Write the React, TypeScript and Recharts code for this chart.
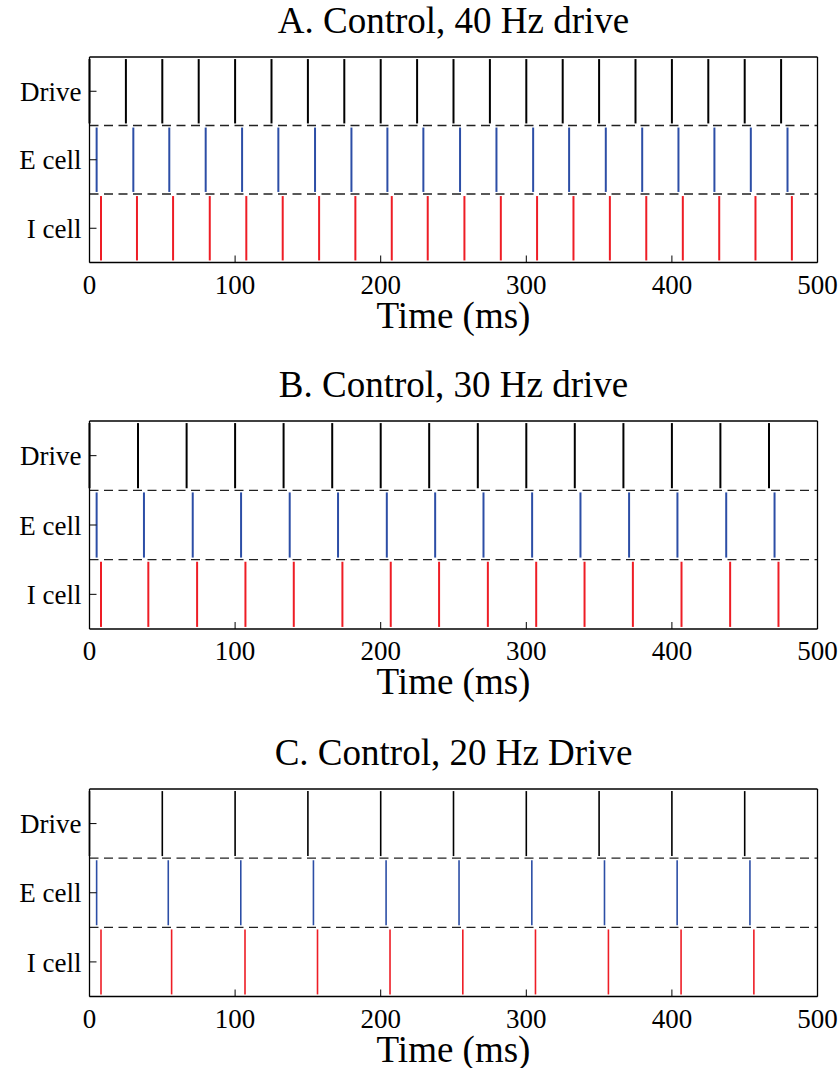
import { ErrorBar, Label, ReferenceLine, Scatter, ScatterChart, XAxis, YAxis } from "recharts";

// spike times in ms, one list per cell and per drive frequency
const rowNames = ["I cell", "E cell", "Drive"]; // rows sit at y = 1, 2, 3
const timeTicks = [0, 100, 200, 300, 400, 500];
const rowTicks = [1, 2, 3];

const drive40 = [0, 25, 50, 75, 100, 125, 150, 175, 200, 225, 250, 275, 300, 325, 350, 375, 400, 425, 450, 475];
const eCell40 = [4.9, 30.1, 54.8, 79.8, 104.8, 129.7, 154.9, 179.9, 204.6, 229.3, 254.5, 279.5, 304.7, 329.4, 354.6, 379.6, 404.5, 429.2, 454.2, 479.4];
const iCell40 = [7.9, 32.6, 57.4, 82.6, 107.7, 132.7, 157.7, 182.6, 207.6, 232.3, 257.5, 282.5, 307.4, 332.4, 357.4, 382.4, 407.5, 432.5, 457.4, 482.4];

const drive30 = [0, 33.3, 66.7, 100, 133.3, 166.7, 200, 233.3, 266.7, 300, 333.3, 366.7, 400, 433.3, 466.7];
const eCell30 = [4.9, 37.4, 70.9, 104.1, 137.5, 170.7, 204.2, 237.4, 270.6, 304.0, 337.2, 370.6, 403.8, 437.3, 470.5];
const iCell30 = [7.9, 40.4, 73.9, 107.1, 140.3, 173.7, 206.9, 240.1, 273.6, 306.8, 340.0, 373.2, 406.6, 440.0, 473.2];

const drive20 = [0, 50, 100, 150, 200, 250, 300, 350, 400, 450];
const eCell20 = [4.9, 54.1, 103.9, 153.8, 203.7, 253.8, 303.8, 353.7, 403.6, 453.6];
const iCell20 = [7.9, 56.4, 106.8, 156.6, 206.4, 256.4, 306.3, 356.4, 406.3, 456.3];

const SPIKE_HALF = 0.47; // half a spike's height, in row units

const FONT = "'Liberation Serif', 'Times New Roman', serif";
const CHART_W = 839;
const CHART_H = 345;
const PLOT_LEFT = 89.5;
const PLOT_RIGHT = 817.5;
const PLOT_TOP = 57; // inside each chart
const XLABEL_DROP = 65; // axis line to "Time (ms)" baseline

const panels = [
  { title: "A. Control, 40 Hz drive", drive: drive40, e: eCell40, i: iCell40, top: 0, height: 205.5, lw: 2 },
  { title: "B. Control, 30 Hz drive", drive: drive30, e: eCell30, i: iCell30, top: 364, height: 208, lw: 2 },
  { title: "C. Control, 20 Hz Drive", drive: drive20, e: eCell20, i: iCell20, top: 732, height: 207.5, lw: 1.6 },
];

const toPoints = (times: number[], row: number) => times.map((t) => ({ x: t, y: row, err: SPIKE_HALF }));

function SpikeRow({ times, row, color, lw }: { times: number[]; row: number; color: string; lw: number }) {
  return (
    <Scatter data={toPoints(times, row)} shape={() => <g />} isAnimationActive={false}>
      <ErrorBar dataKey="err" direction="y" width={0} stroke={color} strokeWidth={lw} isAnimationActive={false} />
    </Scatter>
  );
}

function RasterPanel({ title, drive, e, i, top, height, lw }: (typeof panels)[number]) {
  const bottomAxisH = CHART_H - PLOT_TOP - height;
  return (
    <div style={{ position: "absolute", left: 0, top, width: CHART_W, height: CHART_H }}>
      <div
        style={{
          position: "absolute",
          left: PLOT_LEFT,
          width: PLOT_RIGHT - PLOT_LEFT,
          top: 2,
          textAlign: "center",
          fontFamily: FONT,
          fontSize: 37,
          lineHeight: "37px",
          color: "#000",
          whiteSpace: "nowrap",
        }}
      >
        {title}
      </div>
      <ScatterChart
        width={CHART_W}
        height={CHART_H}
        margin={{ top: PLOT_TOP - 1, right: CHART_W - PLOT_RIGHT - 1, bottom: 0, left: 0 }}
        style={{ fontFamily: FONT }}
      >
        <XAxis
          dataKey="x"
          type="number"
          domain={[0, 500]}
          ticks={timeTicks}
          allowDataOverflow
          height={bottomAxisH}
          axisLine={{ stroke: "#000", strokeWidth: 1.3 }}
          tickLine={{ stroke: "#000", strokeWidth: 1 }}
          tickSize={-7}
          tickMargin={19}
          tick={{ fill: "#000", fontSize: 27 }}
          interval={0}
        >
          <Label value="Time (ms)" position="insideBottom" offset={bottomAxisH - XLABEL_DROP} fill="#000" fontSize={37} />
        </XAxis>
        <XAxis
          xAxisId="top"
          orientation="top"
          type="number"
          domain={[0, 500]}
          ticks={timeTicks}
          height={1}
          axisLine={{ stroke: "#000", strokeWidth: 1.3 }}
          tickLine={{ stroke: "#000", strokeWidth: 1 }}
          tickSize={-7}
          tickFormatter={() => ""}
          interval={0}
        />
        <YAxis
          dataKey="y"
          type="number"
          domain={[0.5, 3.5]}
          ticks={rowTicks}
          width={PLOT_LEFT}
          axisLine={{ stroke: "#000", strokeWidth: 1.3 }}
          tickLine={{ stroke: "#000", strokeWidth: 1 }}
          tickSize={-7}
          tickMargin={15}
          tick={{ fill: "#000", fontSize: 27 }}
          tickFormatter={(v: number) => rowNames[v - 1]}
          interval={0}
        />
        <YAxis
          yAxisId="right"
          orientation="right"
          type="number"
          domain={[0.5, 3.5]}
          ticks={rowTicks}
          width={1}
          axisLine={{ stroke: "#000", strokeWidth: 1.3 }}
          tickLine={{ stroke: "#000", strokeWidth: 1 }}
          tickSize={-7}
          tickFormatter={() => ""}
          interval={0}
        />
        <ReferenceLine y={2.5} stroke="#222" strokeWidth={1.3} strokeDasharray="9 5.5" />
        <ReferenceLine y={1.5} stroke="#222" strokeWidth={1.3} strokeDasharray="9 5.5" />
        <SpikeRow times={drive} row={3} color="#000" lw={lw} />
        <SpikeRow times={e} row={2} color="#2c4ea6" lw={lw} />
        <SpikeRow times={i} row={1} color="#ee1d25" lw={lw} />
      </ScatterChart>
    </div>
  );
}

export default function App() {
  return (
    <div style={{ position: "absolute", left: 0, top: 0, width: 839, height: 1068, overflow: "hidden", background: "#fff" }}>
      {panels.map((p) => (
        <RasterPanel key={p.title} {...p} />
      ))}
    </div>
  );
}
